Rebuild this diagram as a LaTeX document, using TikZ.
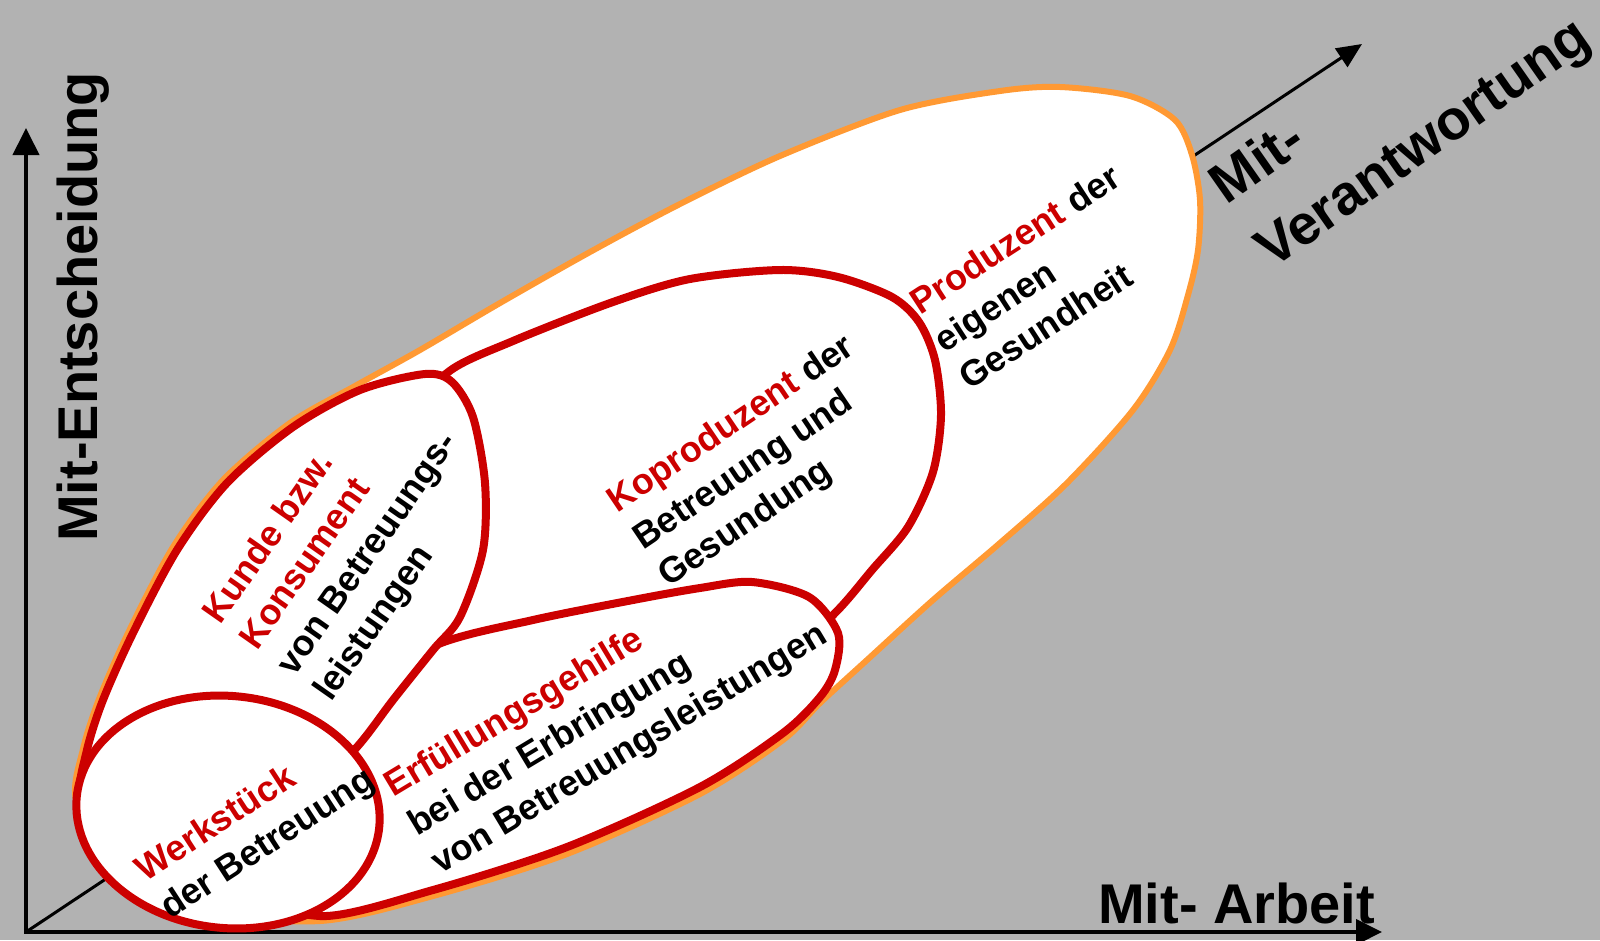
\documentclass[tikz,border=0pt]{standalone}
\usepackage{fontspec}
\setmainfont{Liberation Sans}
\usetikzlibrary{arrows.meta}
\definecolor{rolered}{RGB}{204,0,0}
\definecolor{frameorange}{RGB}{255,153,51}
\definecolor{bggray}{RGB}{178,178,178}
\newcommand{\hl}[1]{\textcolor{rolered}{#1}}

\tikzset{
  axisline/.style={line width=4pt, line join=miter},
  role/.style={draw=rolered, line width=8pt, fill=white},
  rolelabel/.style={font=\fontsize{36}{45}\selectfont\bfseries, align=left, anchor=base west, inner sep=0pt},
  axislabel/.style={font=\fontsize{56}{79}\selectfont\bfseries, align=left, anchor=base west, inner sep=0pt}
}

\begin{document}
\begin{tikzpicture}[x=1pt,y=-1pt]
                    \fill[bggray] (0,0) rectangle (1600,940);
                    \useasboundingbox (0,0) rectangle (1600,940);

                    % Axes
                    \coordinate (O) at (26,932);
                    \coordinate (ytip) at (26,128);
                    \coordinate (xtip) at (1382,932);
                    \coordinate (dtip) at (1362,44);
                    \draw[axisline, {Triangle[length=27pt,width=26pt]}-{Triangle[length=26pt,width=25pt]}] (ytip) -- (O) -- (xtip);
                    \draw[line width=3pt, -{Triangle[length=25pt,width=22pt]}] (O) -- (dtip);

                    % Outer frame
                    \draw[draw=frameorange, line width=6pt, fill=white] plot[smooth cycle] coordinates {
                      (76,800) (83,749) (99,699) (129,631) (173,547) (223,480) (290,423) (355,386)
                      (420,350) (500,303) (590,252) (680,204) (780,156) (900,110) (1000,91)
                      (1060,87) (1130,96) (1175,120) (1192,155) (1200,200) (1198,250) (1188,295)
                      (1170,350) (1133,410) (1067,483) (1000,543) (933,600) (867,660) (820,703)
                      (783,740) (700,794) (567,854) (433,896) (320,921) (200,910) (110,865)};

                    % Koproduzent
                    \draw[role] plot[smooth cycle] coordinates {
                      (405,430) (447,373) (513,341) (613,302) (690,279) (780,270) (838,277) (892,297)
                      (919,322) (935,360) (941,415) (933,472) (908,527) (872,570) (836,612) (780,662)
                      (650,700) (500,705) (420,610)};

                    % Erfuellungsgehilfe
                    \draw[role] plot[smooth cycle] coordinates {
                      (436,645) (533,620) (633,600) (700,588) (752,582) (809,597) (838,633) (835,670)
                      (820,697) (783,733) (700,787) (567,847) (433,890) (320,916) (240,880) (250,760)
                      (340,700)};

                    % Kunde
                    \draw[role] plot[smooth cycle] coordinates {
                      (425,374) (452,382) (473,417) (485,483) (483,550) (460,617) (433,650) (393,700)
                      (357,747) (300,805) (200,835) (110,845) (80,800) (87,750) (103,700) (133,633)
                      (177,550) (227,483) (293,427) (360,390)};

                    % Werkstueck
                    \coordinate (wc) at (228,812);
                    \draw[role, rotate around={-6:(wc)}] (wc) ellipse [x radius=152, y radius=116];

                    % Labels
                    \node[rolelabel, rotate=33] (werk) at (170,920) {\hl{Werkstück}\\der Betreuung};
                    \node[rolelabel, rotate=55] (kunde) at (331,703) {\hl{Kunde bzw.}\\\hl{Konsument}\\von Betreuungs-\\leistungen};
                    \node[rolelabel, rotate=34] (kopro) at (668,588) {\hl{Koproduzent} der\\Betreuung und\\Gesundung};
                    \node[rolelabel, rotate=33] (prod) at (969,391) {\hl{Produzent} der\\eigenen\\Gesundheit};
                    \node[rolelabel, rotate=31] (erfue) at (440,875) {\hl{Erfüllungsgehilfe}\\bei der Erbringung\\von Betreuungsleistungen};

                    \node[axislabel, rotate=90] (entsch) at (97,542) {Mit-Entscheidung};
                    \node[axislabel] (arbeit) at (1098,923) {Mit- Arbeit};
                    \node[axislabel, rotate=35] (verantw) at (1272,270) {Mit-\\Verantwortung};
                \end{tikzpicture}
\end{document}
